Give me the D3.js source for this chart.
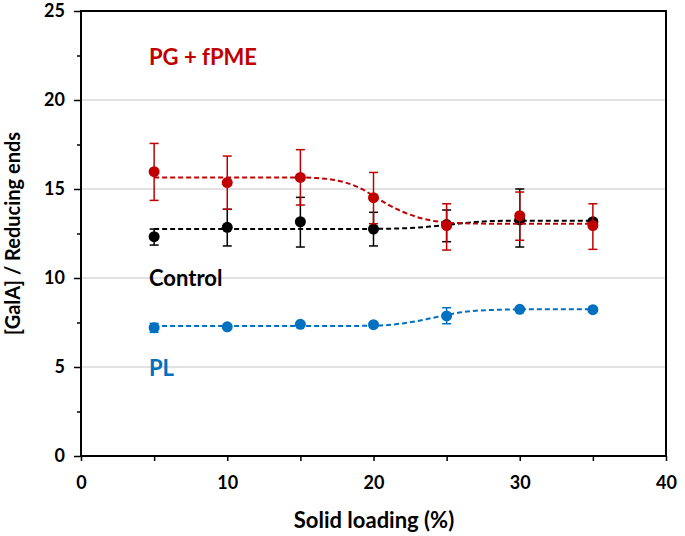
<!DOCTYPE html>
<html><head><meta charset="utf-8">
<script src="https://cdn.jsdelivr.net/npm/d3@7"></script>
<style>body{margin:0;background:#fff}svg{display:block}text{font-family:Lato,"Open Sans",sans-serif;font-weight:bold}</style>
</head><body><svg id="c" width="685" height="536"></svg>
<script>
const xs = [5, 10, 15, 20, 25, 30, 35];
const pgMean = [15.97, 15.36, 15.65, 14.51, 12.95, 13.5, 12.95];
const pgLo   = [14.36, 13.86, 14.1, 13.05, 11.57, 12.12, 11.61];
const pgHi   = [17.56, 16.85, 17.21, 15.93, 14.17, 14.83, 14.17];
const ctMean = [12.32, 12.85, 13.16, 12.75, 13.0, 13.26, 13.16];
const ctLo   = [11.85, 11.8, 11.74, 11.8, 12.04, 11.74, 13.0];
const ctHi   = [12.75, 13.86, 14.53, 13.69, 13.82, 15.0, 13.3];
const plMean = [7.21, 7.26, 7.4, 7.38, 7.87, 8.24, 8.22];
const plLo   = [6.95, 7.2, 7.33, 7.32, 7.43, 8.17, 8.15];
const plHi   = [7.45, 7.32, 7.47, 7.44, 8.33, 8.31, 8.29];
// fitted curves
const fitX  = [5, 10, 15, 16, 17, 18, 19, 20, 21, 22, 23, 24, 25, 26, 27, 28, 30, 35];
const pgFit = [15.65, 15.65, 15.65, 15.62, 15.55, 15.38, 15.08, 14.62, 14.12, 13.72, 13.42, 13.22, 13.12, 13.08, 13.06, 13.05, 13.05, 13.05];
const ctFit = [12.75, 12.75, 12.75, 12.75, 12.75, 12.75, 12.75, 12.76, 12.77, 12.79, 12.83, 12.9, 12.98, 13.07, 13.15, 13.2, 13.22, 13.22];
const plFit = [7.3, 7.3, 7.3, 7.3, 7.3, 7.3, 7.31, 7.32, 7.36, 7.45, 7.58, 7.75, 7.92, 8.07, 8.16, 8.2, 8.24, 8.24];
const xTicks = [0, 10, 20, 30, 40];
const yTicks = [0, 5, 10, 15, 20, 25];

const svg = d3.select("#c");
const L = 81, R = 666, T = 11, B = 456;
const x = d3.scaleLinear().domain([0, 40]).range([L, R]);
const y = d3.scaleLinear().domain([0, 25]).range([B, T]);

// gridlines
svg.append("g").selectAll("line").data(yTicks.filter(v => v > 0 && v < 25)).join("line")
  .attr("x1", L).attr("x2", R).attr("y1", d => y(d)).attr("y2", d => y(d))
  .attr("stroke", "#d9d9d9").attr("stroke-width", 1.3);

// axes
const yAx = svg.append("g").attr("transform", `translate(${L},0)`)
  .call(d3.axisLeft(y).tickValues(d3.range(0, 25.01, 2.5)).tickSize(5).tickFormat(d => d % 5 === 0 ? d : ""));
yAx.selectAll(".tick line").attr("x2", d => d % 5 === 0 ? -7 : -4).attr("stroke-width", 1.5);
yAx.selectAll(".tick text").attr("x", -16).attr("font-size", 18).attr("font-family", "Lato").attr("font-weight", "bold").attr("fill", "#000");
yAx.select(".domain").remove();
const xAx = svg.append("g").attr("transform", `translate(0,${B})`)
  .call(d3.axisBottom(x).tickValues(d3.range(0, 40.01, 5)).tickSize(5).tickFormat(d => xTicks.includes(d) ? d : ""));
xAx.selectAll(".tick line").attr("stroke-width", 1.5);
xAx.selectAll(".tick text").attr("y", 20).attr("font-size", 18).attr("font-family", "Lato").attr("font-weight", "bold").attr("fill", "#000");
xAx.select(".domain").remove();

svg.append("rect").attr("x", L).attr("y", T).attr("width", R - L).attr("height", B - T)
  .attr("fill", "none").attr("stroke", "#000").attr("stroke-width", 2);

// axis titles
svg.append("text").attr("x", 374).attr("y", 528).attr("text-anchor", "middle").attr("font-size", 22).text("Solid loading (%)");
svg.append("text").attr("transform", `translate(20,${(T + B) / 2}) rotate(-90)`).attr("text-anchor", "middle").attr("font-size", 20).text("[GalA] / Reducing ends");

const line = d3.line().x(d => x(d[0])).y(d => y(d[1])).curve(d3.curveMonotoneX);
function series(mean, lo, hi, fit, color) {
  const g = svg.append("g");
  g.append("path").datum(fitX.map((v, i) => [v, fit[i]])).attr("d", line)
    .attr("fill", "none").attr("stroke", color).attr("stroke-width", 2).attr("stroke-dasharray", "5,3");
  xs.forEach((v, i) => {
    g.append("line").attr("x1", x(v)).attr("x2", x(v)).attr("y1", y(lo[i])).attr("y2", y(hi[i])).attr("stroke", color).attr("stroke-width", 1.5);
    [lo[i], hi[i]].forEach(e => g.append("line").attr("x1", x(v) - 4.5).attr("x2", x(v) + 4.5).attr("y1", y(e)).attr("y2", y(e)).attr("stroke", color).attr("stroke-width", 1.5));
  });
  g.selectAll("circle").data(xs).join("circle").attr("cx", d => x(d)).attr("cy", (d, i) => y(mean[i])).attr("r", 5.5).attr("fill", color);
}
series(plMean, plLo, plHi, plFit, "#0070c0");
series(ctMean, ctLo, ctHi, ctFit, "#000000");
series(pgMean, pgLo, pgHi, pgFit, "#c00000");

svg.append("text").attr("x", 149).attr("y", 65).attr("font-size", 22).attr("fill", "#c00000").text("PG + fPME");
svg.append("text").attr("x", 149).attr("y", 286).attr("font-size", 22).attr("fill", "#000").text("Control");
svg.append("text").attr("x", 149).attr("y", 376).attr("font-size", 22).attr("fill", "#0070c0").text("PL");
</script></body></html>
